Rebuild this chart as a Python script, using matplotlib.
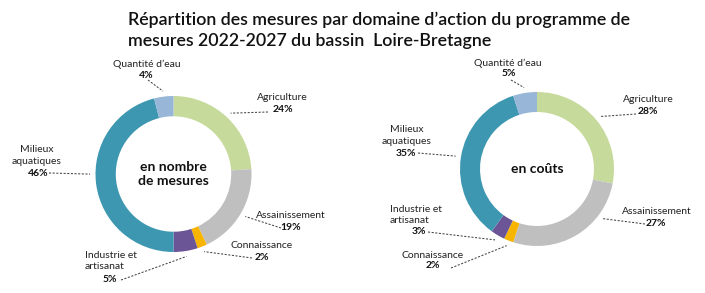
import numpy as np
import matplotlib
matplotlib.use("Agg")
import matplotlib.pyplot as plt

# data
domaines = ["Agriculture", "Assainissement", "Connaissance",
            "Industrie et\nartisanat", "Milieux\naquatiques", "Quantité d\u2019eau"]
pct_nombre = [24, 19, 2, 5, 46, 4]
pct_couts = [28, 27, 2, 3, 35, 5]
couleurs = ["#c6da9c", "#bfbfbf", "#f7b500", "#6b5596", "#3d97b1", "#98b6d8"]
titre = ("Répartition des mesures par domaine d\u2019action du programme de\n"
         "mesures 2022-2027 du bassin  Loire-Bretagne")

W, H = 705, 293
plt.rcParams["font.family"] = ["Lato", "DejaVu Sans"]
fig = plt.figure(figsize=(W / 100, H / 100), dpi=100)
fig.patch.set_facecolor("white")

fig.text(128 / W, 1 - 30.5 / H, titre, ha="left", va="center", fontsize=12.8,
         fontweight="semibold", linespacing=1.38, color="#111111")


def donut(cx, cy, R, valeurs, centre, labels_pos, pct_pos, line_start, anchor_f, align):
    ax = fig.add_axes([(cx - R) / W, (H - cy - R) / H, 2 * R / W, 2 * R / H])
    wedges, _ = ax.pie(valeurs, colors=couleurs, startangle=90, counterclock=False,
                       radius=1, wedgeprops=dict(width=0.26, linewidth=0))
    ax.set_xlim(-1, 1)
    ax.set_ylim(-1, 1)
    ax.axis("off")

    def d(p):
        return (p[0] - cx) / R, (cy - p[1]) / R

    ax.text(0, 0, centre, ha="center", va="center", fontsize=10,
            fontweight="bold", linespacing=1.25, color="#111111")
    for i, w in enumerate(wedges):
        nx, ny = d(labels_pos[i])
        ax.text(nx, ny, domaines[i], ha="center", va="center", fontsize=7.5,
                multialignment=align[i], linespacing=1.3, color="#222222")
        px, py = d(pct_pos[i])
        ax.text(px, py, f"{valeurs[i]}%", ha="center", va="center", fontsize=7.5,
                fontweight="bold", color="#111111")
        ang = np.deg2rad(w.theta1 + anchor_f[i] * (w.theta2 - w.theta1))
        ex, ey = 1.07 * np.cos(ang), 1.07 * np.sin(ang)
        sx, sy = d(line_start[i])
        ax.plot([sx, ex], [sy, ey], ls=(0, (2, 1.5)), lw=0.75, color="#444444",
                clip_on=False)


donut(173.5, 174, 78, pct_nombre, "en nombre\nde mesures",
      [(282, 98), (291, 216), (262, 245), (111, 261), (37, 155.5), (147, 64)],
      [(283, 110), (291, 228), (262, 257), (110, 280), (38, 173), (146, 75)],
      [(268, 112), (281, 228), (252, 258), (121, 280), (49, 173), (148, 80)],
      [0.5, 0.5, 0.5, 0.5, 0.457, 0.5],
      ["center", "center", "center", "left", "center", "center"])

donut(537, 169, 77, pct_couts, "en coûts",
      [(648, 100), (657, 211), (433, 255), (416, 215), (407, 135.5), (508, 63)],
      [(648, 112), (656, 223), (433, 266), (419, 232), (406, 153), (509, 74)],
      [(636, 114), (645, 224), (451, 268), (428, 232), (418, 153), (511, 80)],
      [0.5, 0.73, 0.5, 0.5, 0.5, 0.5],
      ["center", "center", "center", "left", "center", "center"])

fig.savefig("out.png", dpi=100)
